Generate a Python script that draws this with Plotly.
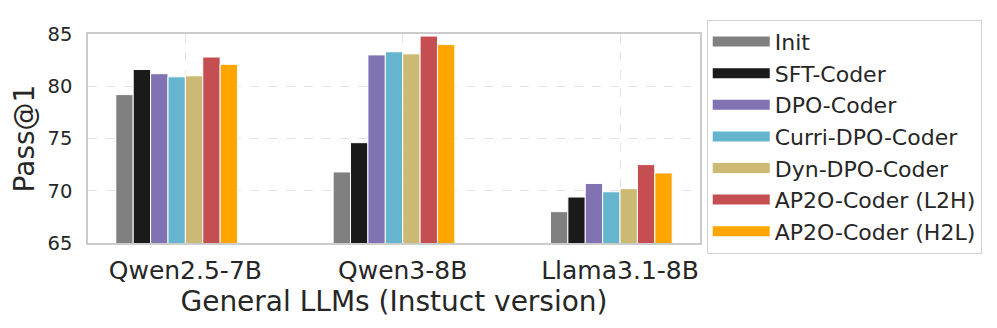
import plotly.graph_objects as go
import numpy as np

# data
models = ['Qwen2.5-7B', 'Qwen3-8B', 'Llama3.1-8B']
methods = ['Init', 'SFT-Coder', 'DPO-Coder', 'Curri-DPO-Coder', 'Dyn-DPO-Coder',
           'AP2O-Coder (L2H)', 'AP2O-Coder (H2L)']
init_vals = [79.2, 71.8, 68.0]
sft_vals = [81.6, 74.6, 69.4]
dpo_vals = [81.2, 83.0, 70.7]
curri_vals = [80.9, 83.3, 69.9]
dyn_vals = [81.0, 83.1, 70.2]
l2h_vals = [82.8, 84.8, 72.5]
h2l_vals = [82.1, 84.0, 71.7]
colors = ['#808080', '#1a1a1a', '#8172b3', '#64b5cd', '#ccb974', '#c44e52', '#ffa500']

series = [init_vals, sft_vals, dpo_vals, curri_vals, dyn_vals, l2h_vals, h2l_vals]
x = np.arange(len(models))
width = 0.08
text_color = '#262626'

fig = go.Figure()
for i, (name, vals, color) in enumerate(zip(methods, series, colors)):
    fig.add_trace(go.Bar(
        x=x, y=vals, name=name,
        width=width, offset=(i - 4) * width,
        marker=dict(color=color, line=dict(color='white', width=1)),
        showlegend=False, legendgroup=name,
    ))
    # wide legend swatch
    fig.add_trace(go.Scatter(
        x=[None], y=[None], mode='lines', name=name, legendgroup=name,
        line=dict(color=color, width=10),
    ))

# page body adds an 8px margin, so the figure is 8px smaller than the window
fig.update_layout(
    width=989, height=320,
    margin=dict(l=80, r=297, t=16, b=85),
    plot_bgcolor='white', paper_bgcolor='white',
    barmode='overlay',
    font=dict(family='DejaVu Sans', color=text_color),
    legend=dict(
        x=1.011, y=1.068, xanchor='left', yanchor='top',
        bordercolor='#d0d0d0', borderwidth=1, bgcolor='white',
        font=dict(size=22, color=text_color),
        tracegroupgap=0, itemwidth=57, maxheight=320,
    ),
)
fig.update_xaxes(
    range=[-0.448, 2.368], tickvals=x, ticktext=models,
    tickfont=dict(size=25), ticks='', ticklabelstandoff=4, automargin=False,
    title=dict(text='General LLMs (Instuct version)', font=dict(size=28), standoff=6),
    showgrid=True, gridcolor='#e3e3e3', griddash='dash', gridwidth=1,
    showline=True, linecolor='#cccccc', linewidth=1.5, mirror=True, zeroline=False,
)
fig.update_yaxes(
    range=[65, 85], tickvals=[65, 70, 75, 80, 85],
    tickfont=dict(size=19.5), ticks='', ticklabelstandoff=10, automargin=False,
    title=dict(text='Pass@1', font=dict(size=28), standoff=12),
    showgrid=True, gridcolor='#e3e3e3', griddash='dash', gridwidth=1,
    showline=True, linecolor='#cccccc', linewidth=1.5, mirror=True, zeroline=False,
)

fig.write_html("out.html")
